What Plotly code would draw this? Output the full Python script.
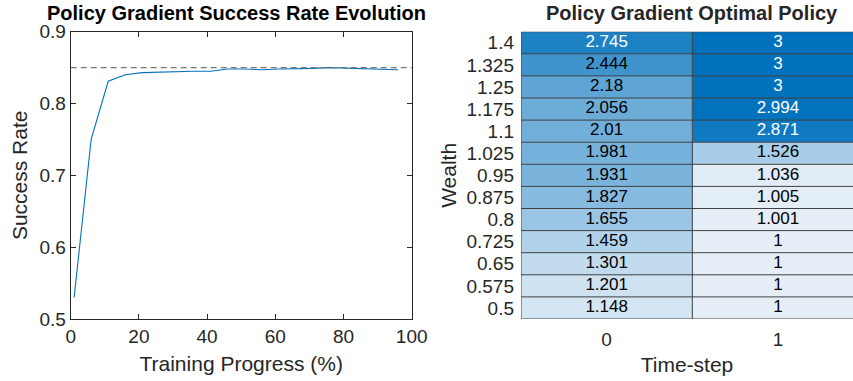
import plotly.graph_objects as go

# ---- Data: left panel (success rate) ----
progress = [1, 6, 11, 16, 21, 26, 31, 36, 41, 46, 51, 56, 61, 66, 71, 76, 81, 86, 91, 96]
success_rate = [0.530, 0.750, 0.831, 0.840, 0.843, 0.844, 0.845, 0.845, 0.845, 0.848,
                0.848, 0.847, 0.848, 0.848, 0.849, 0.850, 0.849, 0.848, 0.848, 0.847]
target_rate = 0.85

# ---- Data: right panel (optimal policy heatmap) ----
wealth_labels = ["0.5", "0.575", "0.65", "0.725", "0.8", "0.875", "0.95",
                 "1.025", "1.1", "1.175", "1.25", "1.325", "1.4"]
timestep_labels = ["0", "1"]
policy_t0 = [1.148, 1.201, 1.301, 1.459, 1.655, 1.827, 1.931,
             1.981, 2.01, 2.056, 2.18, 2.444, 2.745]
policy_t1 = [1, 1, 1, 1, 1.001, 1.005, 1.036,
             1.526, 2.871, 2.994, 3, 3, 3]

FONT = "Liberation Sans, Arial, Helvetica, sans-serif"
AX = "rgb(38,38,38)"
W, H = 853, 381
TICK = 19
ATITLE = 21
CELL = 17

fig = go.Figure()

# Left: line chart
fig.add_trace(go.Scatter(x=progress, y=success_rate, mode="lines",
                         line=dict(color="rgb(0,114,189)", width=1.1),
                         xaxis="x", yaxis="y", showlegend=False))
fig.add_shape(type="line", xref="x domain", yref="y", x0=0, x1=1,
              y0=target_rate, y1=target_rate,
              line=dict(color="rgb(120,120,120)", width=1.2, dash="6px,4px"))

# Right: heatmap
z = [[a, b] for a, b in zip(policy_t0, policy_t1)]
nrows = len(wealth_labels)
ncols = len(timestep_labels)
fig.add_trace(go.Heatmap(
    z=z, x=list(range(ncols)), y=list(range(nrows)),
    zmin=1, zmax=3,
    colorscale=[[0, "rgb(229,238,247)"], [1, "rgb(0,114,189)"]],
    showscale=False, hoverinfo="skip", xaxis="x2", yaxis="y2"))

# cell texts
tx, ty, tt, tc = [], [], [], []
for j, col in enumerate([policy_t0, policy_t1]):
    for i, v in enumerate(col):
        tx.append(j)
        ty.append(i)
        tt.append(f"{v:g}")
        tc.append("white" if v > 2.6 else "black")
fig.add_trace(go.Scatter(x=tx, y=ty, text=tt, mode="text",
                         textfont=dict(family=FONT, size=CELL, color=tc),
                         xaxis="x2", yaxis="y2", showlegend=False, hoverinfo="skip"))

# grid lines for heatmap
grid = "rgb(64,64,64)"
for i in range(nrows + 1):
    fig.add_shape(type="line", xref="x2", yref="y2", x0=-0.5, x1=ncols - 0.5,
                  y0=i - 0.5, y1=i - 0.5, line=dict(color=grid, width=1), layer="above")
for j in range(ncols):
    fig.add_shape(type="line", xref="x2", yref="y2", x0=j - 0.5, x1=j - 0.5,
                  y0=-0.5, y1=nrows - 0.5, line=dict(color=grid, width=1), layer="above")

left_x0, left_x1 = 70.7 / W, 411.7 / W
top_y, bot_y = 1 - 31.7 / H, 1 - 319.0 / H
hm_x0 = 521.0 / W
col_w_px = 171.3
hm_range_right = -0.5 + (W - 521.0) / col_w_px

fig.update_layout(
    width=W, height=H, margin=dict(l=0, r=0, t=0, b=0),
    paper_bgcolor="white", plot_bgcolor="white",
    font=dict(family=FONT, size=TICK, color=AX),
    xaxis=dict(domain=[left_x0, left_x1], range=[0, 100], tickvals=[0, 20, 40, 60, 80, 100],
               showline=True, linecolor=AX, linewidth=1, mirror="ticks",
               ticks="inside", ticklen=5, tickcolor=AX, showgrid=False, zeroline=False,
               tickfont=dict(size=TICK, color=AX), automargin=False,
               title=dict(text="Training Progress (%)", font=dict(size=ATITLE, color=AX), standoff=10)),
    yaxis=dict(domain=[bot_y, top_y], range=[0.5, 0.9], tickvals=[0.5, 0.6, 0.7, 0.8, 0.9],
               ticktext=["0.5", "0.6", "0.7", "0.8", "0.9"],
               showline=True, linecolor=AX, linewidth=1, mirror="ticks",
               ticks="inside", ticklen=5, tickcolor=AX, showgrid=False, zeroline=False,
               tickfont=dict(size=TICK, color=AX), automargin=False,
               title=dict(text="Success Rate", font=dict(size=ATITLE, color=AX), standoff=6)),
    xaxis2=dict(domain=[hm_x0, 1.0], range=[-0.5, hm_range_right],
                tickvals=list(range(ncols)), ticktext=timestep_labels,
                showline=False, showgrid=False, zeroline=False, ticks="",
                tickfont=dict(size=TICK, color=AX), automargin=False, ticklabelstandoff=7,
                title=dict(text="Time-step", font=dict(size=ATITLE, color=AX), standoff=8)),
    yaxis2=dict(domain=[bot_y, top_y], range=[-0.5, nrows - 0.5], anchor="x2",
                tickvals=list(range(nrows)), ticktext=wealth_labels,
                showline=False, showgrid=False, zeroline=False, ticks="",
                tickfont=dict(size=TICK, color=AX), automargin=False, ticklabelstandoff=6,
                title=dict(text="Wealth", font=dict(size=ATITLE, color=AX), standoff=4)),
    annotations=[
        dict(text="<b>Policy Gradient Success Rate Evolution</b>", xref="paper", yref="paper",
             x=236.0 / W, y=1 - 13 / H, xanchor="center", yanchor="middle",
             showarrow=False, font=dict(size=20, color="black")),
        dict(text="<b>Policy Gradient Optimal Policy</b>", xref="paper", yref="paper",
             x=(521.0 + col_w_px) / W, y=1 - 13 / H,
             xanchor="center", yanchor="middle",
             showarrow=False, font=dict(size=20, color="rgb(38,38,38)")),
    ],
)

fig.write_html("out.html")
